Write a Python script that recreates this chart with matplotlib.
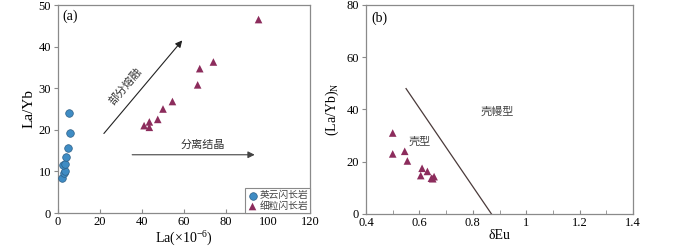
import matplotlib.pyplot as plt
from matplotlib.ticker import MultipleLocator

plt.rcParams['font.family'] = ['Liberation Serif', 'Noto Sans CJK SC']

# panel (a) data
tonalite_la = [2.0, 3.0, 3.2, 2.5, 3.4, 4.0, 4.8, 5.3, 5.8]
tonalite_layb = [8.4, 9.7, 10.0, 11.5, 11.8, 13.5, 15.7, 24.0, 19.3]
diorite_la = [41.0, 43.5, 43.5, 47.5, 50.0, 54.5, 66.5, 67.5, 74.0, 95.5]
diorite_layb = [21.0, 20.6, 21.9, 22.5, 25.0, 26.8, 30.8, 34.7, 36.3, 46.5]

# panel (b) data
eu_anom = [0.50, 0.50, 0.545, 0.555, 0.61, 0.605, 0.63, 0.645, 0.655, 0.65]
layb_n = [31.0, 23.0, 24.0, 20.3, 17.5, 14.7, 16.3, 13.7, 14.3, 13.5]
boundary_x = [0.55, 0.87]
boundary_y = [48.0, 0.0]

blue = '#3f8cc4'
purple = '#8c2c5c'
spine_c = '#8a8a8a'
cjk = ['Noto Sans CJK SC']

fig = plt.figure(figsize=(7.0, 2.48), dpi=100)
ax1 = fig.add_axes([58 / 700, 35 / 248, 252 / 700, 208 / 248])
ax2 = fig.add_axes([366 / 700, 34 / 248, 267 / 700, 209 / 248])

for ax in (ax1, ax2):
    for s in ax.spines.values():
        s.set_color(spine_c)
        s.set_linewidth(0.9)
    ax.tick_params(labelsize=9, color=spine_c, width=0.8, length=3, pad=2)

# (a)
ax1.scatter(tonalite_la, tonalite_layb, s=30, c=blue, edgecolors='#2d5f86',
            linewidths=0.5, label='英云闪长岩', zorder=3)
ax1.scatter(diorite_la, diorite_layb, s=30, c=purple, marker='^',
            edgecolors='none', label='细粒闪长岩', zorder=3)
ax1.annotate('', xy=(60, 42), xytext=(21, 18.6),
             arrowprops=dict(arrowstyle='-|>', color='#222222', lw=0.8, mutation_scale=10))
ax1.annotate('', xy=(95, 14), xytext=(34, 14),
             arrowprops=dict(arrowstyle='-|>', color='#444444', lw=0.8, mutation_scale=10))
ax1.text(32, 30.5, '部分熔融', family=cjk, fontsize=8, rotation=50,
         ha='center', va='center', color='#333333')
ax1.text(69, 16.5, '分离结晶', family=cjk, fontsize=8, ha='center', va='center',
         color='#333333')
ax1.text(2, 47.3, '(a)', fontsize=10, va='center')
ax1.set_xlim(0, 120)
ax1.set_ylim(0, 50)
ax1.xaxis.set_major_locator(MultipleLocator(20))
ax1.yaxis.set_major_locator(MultipleLocator(10))
ax1.tick_params(axis='x', direction='in')
ax1.tick_params(axis='y', direction='out')
ax1.set_xlabel('La(×10$^{\\mathregular{-6}}$)', fontsize=10, labelpad=0)
ax1.set_ylabel('La/Yb', fontsize=11, labelpad=2)
leg = ax1.legend(loc='lower right', prop={'family': cjk, 'size': 7},
                 handletextpad=0.1, borderpad=0.2, labelspacing=0.1,
                 handlelength=1.2, borderaxespad=0.0, fancybox=False,
                 framealpha=1)
leg.get_frame().set_edgecolor(spine_c)
leg.get_frame().set_linewidth(0.8)
for t in leg.get_texts():
    t.set_color('#444444')

# (b)
ax2.scatter(eu_anom, layb_n, s=30, c=purple, marker='^', edgecolors='none', zorder=3)
ax2.plot(boundary_x, boundary_y, color='#4a3a3a', lw=0.9)
ax2.text(0.6, 27.8, '壳型', family=cjk, fontsize=8, ha='center', va='center',
         color='#444444')
ax2.text(0.89, 39.2, '壳幔型', family=cjk, fontsize=8, ha='center', va='center',
         color='#444444')
ax2.text(0.42, 75, '(b)', fontsize=10, va='center')
ax2.set_xlim(0.4, 1.4)
ax2.set_ylim(0, 80)
ax2.xaxis.set_minor_locator(MultipleLocator(0.1))
ax2.yaxis.set_major_locator(MultipleLocator(20))
ax2.set_xticks([0.4, 0.6, 0.8, 1.0, 1.2, 1.4])
ax2.set_xticklabels(['0.4', '0.6', '0.8', '1', '1.2', '1.4'])
ax2.tick_params(axis='x', which='both', direction='in')
ax2.tick_params(axis='x', which='minor', color=spine_c, length=3)
ax2.tick_params(axis='y', direction='out')
ax2.set_xlabel('δEu', fontsize=10, labelpad=0)
ax2.set_ylabel('(La/Yb)$_\\mathregular{N}$', fontsize=10, labelpad=4)

fig.savefig('out.png', dpi=100)
